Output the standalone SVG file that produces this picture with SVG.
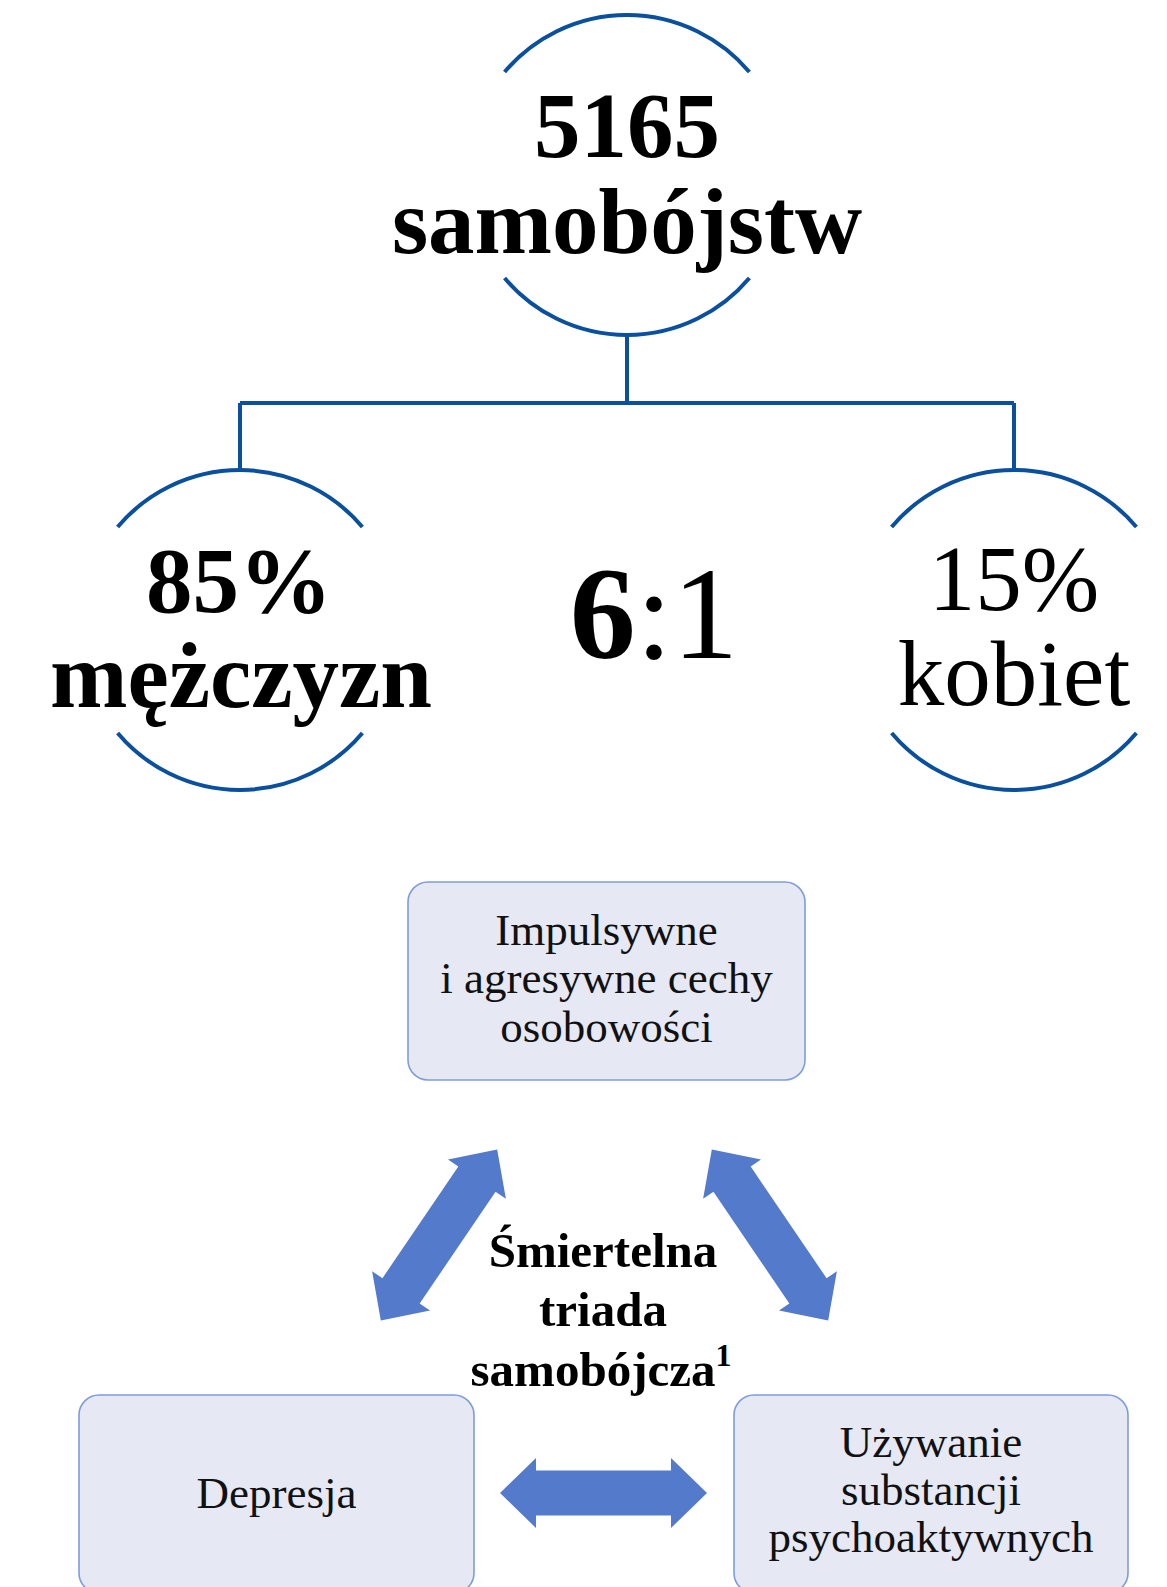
<svg xmlns="http://www.w3.org/2000/svg" width="1167" height="1587" viewBox="0 0 1167 1587">
  <style>
    .ring { fill: none; stroke: #0a509f; stroke-width: 4; }
    .conn { fill: none; stroke: #0a509f; stroke-width: 4; }
    .big { font-family: "Liberation Serif", "Times New Roman", serif; font-size: 93px; fill: #000; text-anchor: middle; }
    .b { font-weight: bold; }
    .box { fill: #e6e8f4; stroke: #7d9ddc; stroke-width: 1.6; }
    .boxt { font-family: "Liberation Serif", "Times New Roman", serif; font-size: 45px; fill: #111; text-anchor: middle; }
    .triad { font-family: "Liberation Serif", "Times New Roman", serif; font-size: 49px; font-weight: bold; fill: #000; text-anchor: middle; }
    .arr { fill: #537acb; }
  </style>
  <defs>
    <path id="dblarrow" d="M-103.5 0 L-67.5 -35 L-67.5 -22.5 L67.5 -22.5 L67.5 -35 L103.5 0 L67.5 35 L67.5 22.5 L-67.5 22.5 L-67.5 35 Z"/>
  </defs>
  <rect width="1167" height="1587" fill="#fff"/>

  <g id="connectors">
    <path class="conn" d="M627 335 V403"/>
    <path class="conn" d="M240 403 H1014"/>
    <path class="conn" d="M240 403 V470"/>
    <path class="conn" d="M1014 403 V470"/>
  </g>

  <g id="node-total">
    <path class="ring" d="M504.6 72 A160 160 0 0 1 749.4 72"/>
    <path class="ring" d="M504.6 278 A160 160 0 0 0 749.4 278"/>
    <text class="big b" x="627" y="157">5165</text>
    <text class="big b" x="627" y="253">samobójstw</text>
  </g>

  <g id="node-men">
    <path class="ring" d="M117.6 527 A160 160 0 0 1 362.4 527"/>
    <path class="ring" d="M117.6 733 A160 160 0 0 0 362.4 733"/>
    <text class="big b" x="239" y="612">85%</text>
    <text class="big b" x="241" y="707">mężczyzn</text>
  </g>

  <g id="node-ratio">
    <text class="big" style="font-size:132px" x="654" y="658"><tspan font-weight="bold">6</tspan>:1</text>
  </g>

  <g id="node-women">
    <path class="ring" d="M891.6 527 A160 160 0 0 1 1136.4 527"/>
    <path class="ring" d="M891.6 733 A160 160 0 0 0 1136.4 733"/>
    <text class="big" x="1014" y="610">15%</text>
    <text class="big" x="1014" y="705">kobiet</text>
  </g>

  <g id="node-impulsive">
    <rect class="box" x="408" y="882" width="397" height="198" rx="20"/>
    <text class="boxt" x="606.5" y="945">Impulsywne</text>
    <text class="boxt" x="606.5" y="993">i agresywne cechy</text>
    <text class="boxt" x="606.5" y="1042">osobowości</text>
  </g>

  <g id="node-triad">
    <text class="triad" x="603" y="1267">Śmiertelna</text>
    <text class="triad" x="603" y="1326">triada</text>
    <text class="triad" x="601" y="1386">samobójcza<tspan font-size="32" dy="-20">1</tspan></text>
  </g>

  <g id="node-depression">
    <rect class="box" x="79" y="1395" width="395" height="198" rx="20"/>
    <text class="boxt" x="276.5" y="1508">Depresja</text>
  </g>

  <g id="node-substances">
    <rect class="box" x="734" y="1395" width="394" height="198" rx="20"/>
    <text class="boxt" x="931" y="1457">Używanie</text>
    <text class="boxt" x="931" y="1505">substancji</text>
    <text class="boxt" x="931" y="1552">psychoaktywnych</text>
  </g>

  <g id="arrows">
    <use class="arr" href="#dblarrow" transform="translate(439 1235) rotate(-55.8)"/>
    <use class="arr" href="#dblarrow" transform="translate(770 1235) rotate(55.8)"/>
    <use class="arr" href="#dblarrow" transform="translate(603.5 1493)"/>
  </g>
</svg>
